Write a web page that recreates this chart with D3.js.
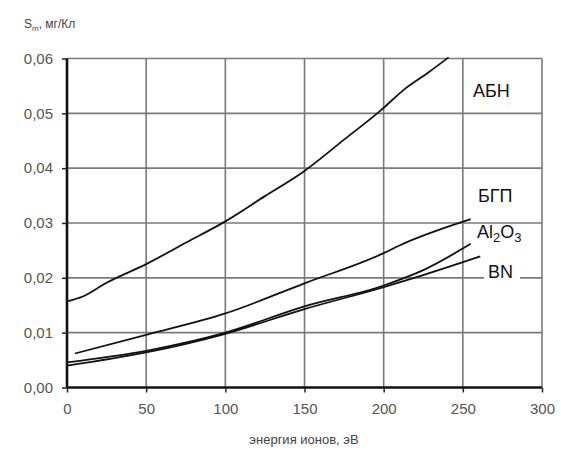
<!DOCTYPE html>
<html>
<head>
<meta charset="utf-8">
<script src="https://cdn.jsdelivr.net/npm/d3@7"></script>
<style>
  body { margin: 0; background: #fff; }
  text { font-family: "Liberation Sans", Arial, sans-serif; }
</style>
</head>
<body>
<div id="chart"></div>
<script>
// data
var xTicks = [0, 50, 100, 150, 200, 250, 300];
var yTicks = [0, 0.01, 0.02, 0.03, 0.04, 0.05, 0.06];

var abnE = [0, 10, 25, 50, 75, 100, 125, 150, 175, 198, 214, 228, 241];
var abnS = [0.0157, 0.0166, 0.0191, 0.0225, 0.0264, 0.0303, 0.0349, 0.0395, 0.0452, 0.0505, 0.0546, 0.0574, 0.0602];

var bgpE = [5, 50, 100, 150, 200, 210, 255];
var bgpS = [0.0062, 0.0096, 0.0135, 0.0190, 0.0245, 0.0259, 0.0307];

var alE = [0, 50, 100, 150, 200, 225, 255];
var alS = [0.0046, 0.0067, 0.0100, 0.0148, 0.0186, 0.0214, 0.0262];

var bnE = [0, 50, 100, 150, 200, 225, 261];
var bnS = [0.0040, 0.0064, 0.0098, 0.0143, 0.0183, 0.0205, 0.0239];

var width = 561, height = 456;

var svg = d3.select("#chart")
    .append("svg")
    .attr("width", width)
    .attr("height", height);

var x = d3.scaleLinear()
    .domain([0, 300])
    .range([67, 542]);

var y = d3.scaleLinear()
    .domain([0, 0.06])
    .range([387.5, 58.5]);

// grid
svg.append("g")
  .selectAll("line")
  .data(yTicks.slice(1))
  .enter().append("line")
    .attr("x1", x(0)).attr("x2", x(300))
    .attr("y1", function(d) { return y(d) })
    .attr("y2", function(d) { return y(d) })
    .attr("stroke", "#7a7a7a")
    .attr("stroke-width", 1.6);

svg.append("g")
  .selectAll("line")
  .data(xTicks.slice(1))
  .enter().append("line")
    .attr("x1", function(d) { return x(d) })
    .attr("x2", function(d) { return x(d) })
    .attr("y1", y(0)).attr("y2", y(0.06))
    .attr("stroke", "#7a7a7a")
    .attr("stroke-width", 1.6);

// axes
var fmt = function(d) { return d3.format(".2f")(d).replace(".", ","); };

var yAxis = svg.append("g")
    .attr("transform", "translate(" + x(0) + ",0)")
    .call(d3.axisLeft(y).tickValues(yTicks).tickFormat(fmt).tickSize(5).tickPadding(9));

var xAxis = svg.append("g")
    .attr("transform", "translate(0," + y(0) + ")")
    .call(d3.axisBottom(x).tickValues(xTicks).tickFormat(d3.format("d")).tickSize(5).tickPadding(11));

[yAxis, xAxis].forEach(function(a) {
  a.select(".domain").attr("stroke", "#111").attr("stroke-width", 2.6);
  a.selectAll(".tick line").attr("stroke", "#222").attr("stroke-width", 1.5);
  a.selectAll(".tick text").attr("fill", "#555").style("font-size", "15px");
});
yAxis.select(".domain").attr("d", "M0," + y(0) + "V" + y(0.06));
xAxis.select(".domain").attr("d", "M" + x(0) + ",0H" + x(300));

// curves
var line = d3.line()
    .x(function(d) { return x(d[0]) })
    .y(function(d) { return y(d[1]) })
    .curve(d3.curveMonotoneX);

function pairs(e, s) { return e.map(function(v, i) { return [v, s[i]]; }); }

[[abnE, abnS], [bgpE, bgpS], [alE, alS], [bnE, bnS]].forEach(function(sr) {
  svg.append("path")
    .datum(pairs(sr[0], sr[1]))
    .attr("fill", "none")
    .attr("stroke", "#111")
    .attr("stroke-width", 1.8)
    .attr("d", line);
});

// labels
svg.append("rect").attr("x", 484).attr("y", 268).attr("width", 36).attr("height", 20).attr("fill", "#fff");

var lab = svg.append("g").attr("fill", "#111").style("font-size", "18px");
lab.append("text").attr("x", 473).attr("y", 97).text("АБН");
lab.append("text").attr("x", 478).attr("y", 202).text("БГП");
var al = lab.append("text").attr("x", 477).attr("y", 238);
al.append("tspan").text("Al");
al.append("tspan").attr("dy", 4).style("font-size", "13px").text("2");
al.append("tspan").attr("dy", -4).text("O");
al.append("tspan").attr("dy", 4).style("font-size", "13px").text("3");
lab.append("text").attr("x", 488).attr("y", 278).text("BN");

// titles
var yt = svg.append("text").attr("x", 24).attr("y", 28).attr("fill", "#444").style("font-size", "12px");
yt.append("tspan").text("S");
yt.append("tspan").attr("dy", 3).style("font-size", "8px").text("m");
yt.append("tspan").attr("dy", -3).text(", мг/Кл");

svg.append("text")
    .attr("x", 304).attr("y", 444)
    .attr("text-anchor", "middle")
    .attr("fill", "#444")
    .style("font-size", "13px")
    .text("энергия ионов, эВ");
</script>
</body>
</html>
